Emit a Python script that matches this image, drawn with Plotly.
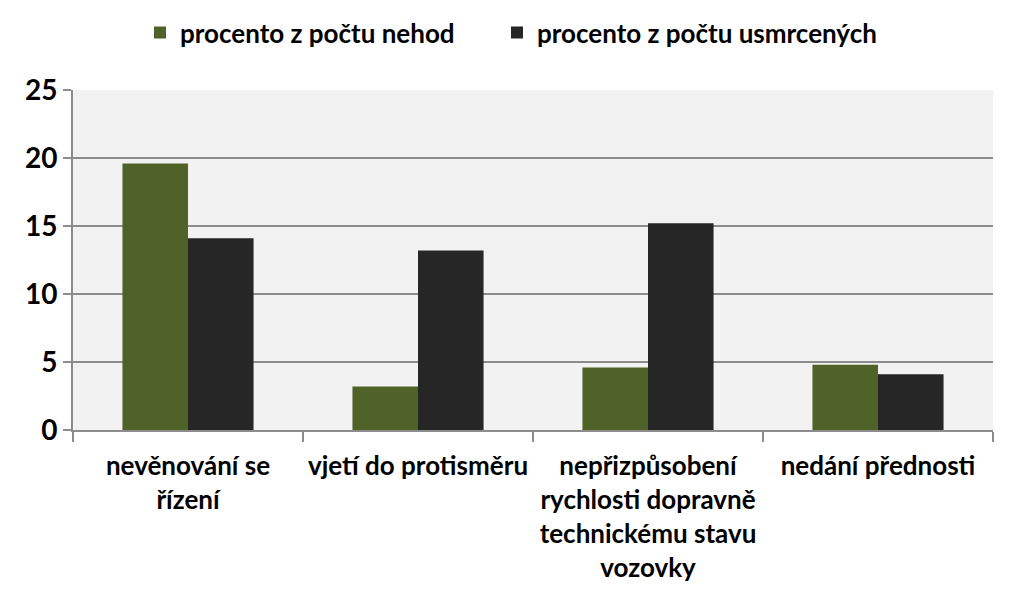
import plotly.graph_objects as go

categories = ["nevěnování se<br>řízení", "vjetí do protisměru",
              "nepřizpůsobení<br>rychlosti dopravně<br>technickému stavu<br>vozovky",
              "nedání přednosti"]
series_names = ["procento z počtu nehod", "procento z počtu usmrcených"]
nehod = [19.6, 3.2, 4.6, 4.8]
usmrcenych = [14.1, 13.2, 15.2, 4.1]
colors = ["#4f6228", "#262626"]
y_ticks = [0, 5, 10, 15, 20, 25]

font_family = "Lato, 'Open Sans', sans-serif"

fig = go.Figure()
fig.add_trace(go.Bar(x=categories, y=nehod, name=series_names[0],
                     marker=dict(color=colors[0], line=dict(width=0)), legend="legend"))
fig.add_trace(go.Bar(x=categories, y=usmrcenych, name=series_names[1],
                     marker=dict(color=colors[1], line=dict(width=0)), legend="legend2"))

legend_common = dict(orientation="h", xref="container", yref="container", y=0.945, yanchor="middle",
                     xanchor="left", font=dict(size=26, family=font_family, weight="bold"),
                     itemwidth=30, bgcolor="rgba(0,0,0,0)")

fig.update_layout(
    width=1024, height=594,
    margin=dict(l=73, r=31, t=90, b=164, autoexpand=False),
    paper_bgcolor="white",
    plot_bgcolor="#f2f2f2",
    barmode="group",
    bargap=0.43,
    bargroupgap=0,
    font=dict(family=font_family, size=26, color="black", weight="bold"),
    legend=dict(x=140 / 1024, **legend_common),
    legend2=dict(x=497 / 1024, **legend_common),
    showlegend=True,
)
fig.update_xaxes(
    showgrid=False, showline=True, linecolor="#8c8c8c", linewidth=2,
    ticks="outside", tickson="boundaries", ticklen=10, tickcolor="#8c8c8c", tickwidth=2,
    tickfont=dict(size=26, family=font_family, weight="bold"),
    tickangle=0, ticklabelstandoff=12,
)
fig.update_yaxes(
    range=[0, 25], tickvals=y_ticks,
    showgrid=True, gridcolor="#8c8c8c", gridwidth=2,
    showline=True, linecolor="#8c8c8c", linewidth=2,
    ticks="outside", ticklen=8, tickcolor="#8c8c8c", tickwidth=2,
    tickfont=dict(size=28, family=font_family, weight="bold"),
    zeroline=False,
)

fig.write_html("out.html")
